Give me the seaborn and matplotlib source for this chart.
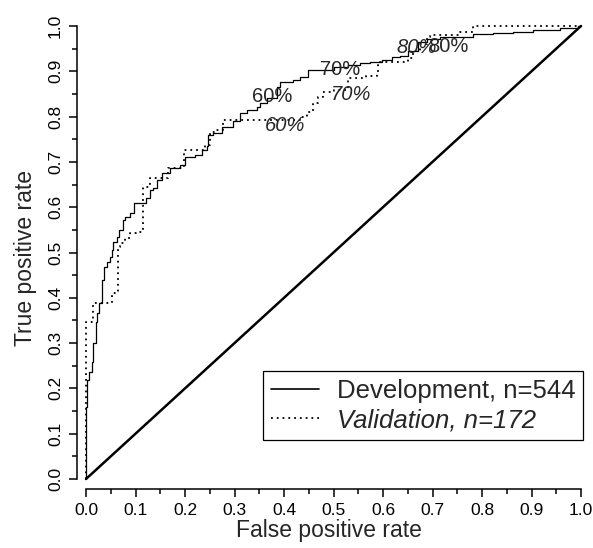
import matplotlib
matplotlib.use("Agg")
import matplotlib.pyplot as plt
import seaborn as sns
import pandas as pd
from matplotlib.lines import Line2D

# ROC step corners (fpr, tpr)
dev_fpr = [0.000, 0.000, 0.003, 0.007, 0.012, 0.015, 0.020, 0.023, 0.027, 0.032,
           0.036, 0.042, 0.048, 0.052, 0.055, 0.062, 0.067, 0.074, 0.079, 0.089,
           0.096, 0.121, 0.129, 0.136, 0.143, 0.153, 0.170, 0.190, 0.200, 0.220,
           0.234, 0.244, 0.247, 0.257, 0.274, 0.297, 0.311, 0.325, 0.345, 0.352,
           0.365, 0.385, 0.392, 0.419, 0.432, 0.449, 0.500, 0.530, 0.554, 0.574,
           0.597, 0.618, 0.634, 0.650, 0.671, 0.688, 0.715, 0.782, 0.822, 0.863,
           0.903, 0.958, 0.994, 1.000]
dev_tpr = [0.000, 0.160, 0.219, 0.237, 0.259, 0.300, 0.347, 0.366, 0.389, 0.439,
           0.469, 0.480, 0.491, 0.506, 0.524, 0.535, 0.550, 0.572, 0.579, 0.587,
           0.609, 0.620, 0.638, 0.642, 0.660, 0.675, 0.686, 0.693, 0.711, 0.715,
           0.726, 0.734, 0.759, 0.763, 0.778, 0.790, 0.807, 0.815, 0.822, 0.829,
           0.840, 0.866, 0.877, 0.881, 0.888, 0.903, 0.910, 0.914, 0.918, 0.921,
           0.926, 0.931, 0.934, 0.945, 0.965, 0.971, 0.976, 0.982, 0.985, 0.987,
           0.991, 0.995, 1.000, 1.000]

val_fpr = [0.000, 0.000, 0.015, 0.052, 0.065, 0.069, 0.079, 0.089, 0.100, 0.116,
           0.129, 0.166, 0.197, 0.240, 0.251, 0.261, 0.277, 0.432, 0.446, 0.459,
           0.469, 0.479, 0.500, 0.530, 0.566, 0.587, 0.590, 0.594, 0.651, 0.660,
           0.675, 0.688, 0.695, 0.756, 0.782, 1.000]
val_tpr = [0.000, 0.347, 0.389, 0.410, 0.513, 0.520, 0.531, 0.542, 0.546, 0.645,
           0.664, 0.686, 0.726, 0.737, 0.767, 0.770, 0.792, 0.800, 0.811, 0.829,
           0.844, 0.855, 0.859, 0.885, 0.889, 0.899, 0.914, 0.921, 0.929, 0.945,
           0.960, 0.976, 0.980, 0.987, 1.000, 1.000]

# threshold labels
dev_lab = ["60%", "70%", "80%"]
dev_lab_x = [0.376, 0.513, 0.731]
dev_lab_y = [0.845, 0.903, 0.954]
val_lab = ["60%", "70%", "80%"]
val_lab_x = [0.402, 0.535, 0.669]
val_lab_y = [0.781, 0.848, 0.953]

sns.set_style("ticks")
plt.rcParams['font.family'] = ['Liberation Sans', 'DejaVu Sans']

fig = plt.figure(figsize=(5.93, 5.48), dpi=100)
ax = fig.add_axes([77 / 593, 59 / 548, 504 / 593, 463 / 548])

dev = pd.DataFrame({"fpr": dev_fpr, "tpr": dev_tpr})
val = pd.DataFrame({"fpr": val_fpr, "tpr": val_tpr})

ax.plot([0, 1], [0, 1], color="black", lw=1.8, clip_on=False)
sns.lineplot(data=dev, x="fpr", y="tpr", ax=ax, estimator=None, sort=False,
             drawstyle="steps-post", color="black", lw=0.9, clip_on=False)
sns.lineplot(data=val, x="fpr", y="tpr", ax=ax, estimator=None, sort=False,
             drawstyle="steps-post", color="black", lw=1.3, ls=(0, (1, 2.2)),
             clip_on=False)

for t, x, y in zip(dev_lab, dev_lab_x, dev_lab_y):
    ax.text(x, y, t, ha="center", va="center", fontsize=14.5)
for t, x, y in zip(val_lab, val_lab_x, val_lab_y):
    ax.text(x, y, t, ha="center", va="center", fontsize=14.5, style="italic")

ax.set_xlim(-9 / 495, 1.0)
ax.set_ylim(-10 / 453, 1.0)
ticks = [i / 10 for i in range(11)]
ax.set_xticks(ticks)
ax.set_yticks(ticks)
ax.set_xticks([i / 20 for i in range(21)], minor=True)
ax.set_yticks([i / 20 for i in range(21)], minor=True)
ax.set_xticklabels([f"{t:.1f}" for t in ticks])
ax.set_yticklabels([f"{t:.1f}" for t in ticks], rotation=90, va="center")
ax.tick_params(which="major", length=6, width=1.1, labelsize=12.5, color="black",
               labelcolor="black", pad=4)
ax.tick_params(which="minor", length=3.5, width=1.1, color="black")

for s in ["top", "right"]:
    ax.spines[s].set_visible(False)
for s in ["left", "bottom"]:
    ax.spines[s].set_linewidth(1.1)
    ax.spines[s].set_color("black")
ax.spines["left"].set_bounds(0, 1)
ax.spines["bottom"].set_bounds(0, 1)

ax.set_xlabel("False positive rate", fontsize=16.5, labelpad=1)
ax.set_ylabel("True positive rate", fontsize=16.5, labelpad=8)

handles = [Line2D([], [], color="black", lw=1.2),
           Line2D([], [], color="black", lw=1.3, ls=(0, (1, 2.2)))]
leg = ax.legend(handles, ["Development, n=544", "Validation, n=172"],
                loc="lower right", bbox_to_anchor=(1.004, 0.106), borderaxespad=0,
                fontsize=18.5, frameon=True, fancybox=False, framealpha=1,
                edgecolor="black", handlelength=1.85, handletextpad=0.7,
                borderpad=0.3, labelspacing=0.2)
leg.get_frame().set_linewidth(0.9)
leg.get_texts()[1].set_style("italic")

fig.savefig("out.png", dpi=100)
